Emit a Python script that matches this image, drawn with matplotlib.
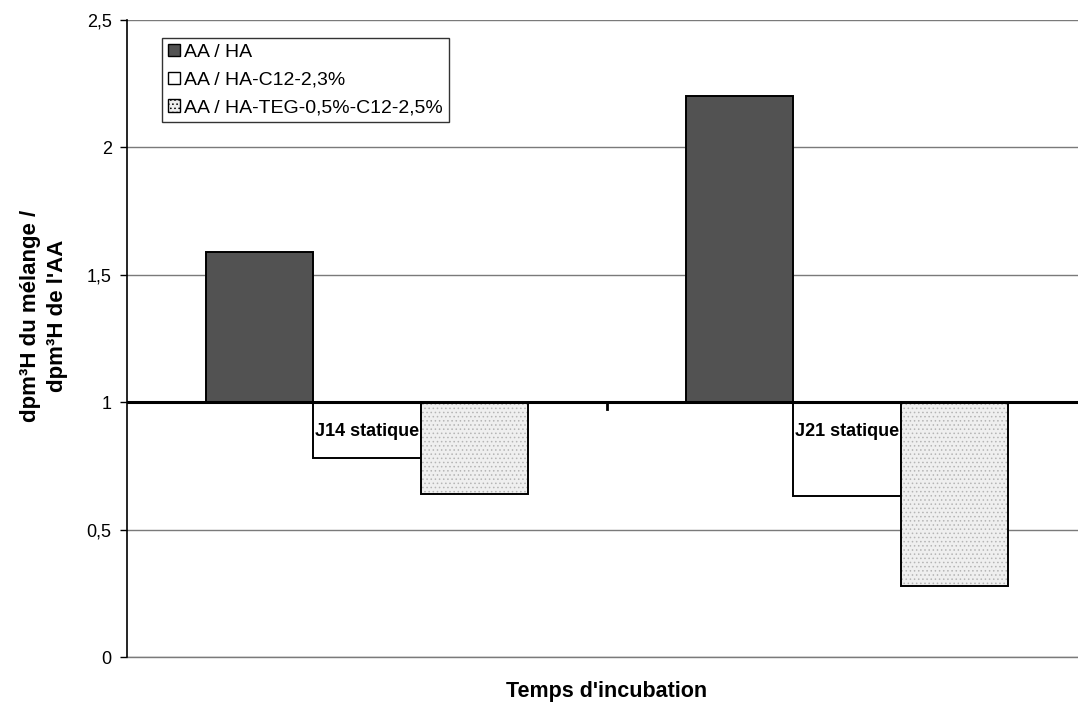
import matplotlib
matplotlib.use("Agg")
import matplotlib.pyplot as plt
import numpy as np

plt.rcParams['font.family'] = ['Liberation Sans', 'DejaVu Sans']
plt.rcParams['hatch.linewidth'] = 0.6

categories = ["J14 statique", "J21 statique"]
series_names = ["AA / HA", "AA / HA-C12-2,3%", "AA / HA-TEG-0,5%-C12-2,5%"]
values = [
    [1.59, 2.20],   # AA / HA
    [0.78, 0.63],   # AA / HA-C12-2,3%
    [0.64, 0.28],   # AA / HA-TEG-0,5%-C12-2,5%
]
yticks = [0, 0.5, 1, 1.5, 2, 2.5]
ytick_labels = ["0", "0,5", "1", "1,5", "2", "2,5"]
baseline = 1.0

W, H = 1078, 703
fig = plt.figure(figsize=(W / 100, H / 100), dpi=100)
ax = fig.add_axes([127 / W, (H - 657) / H, 960 / W, 637 / H])

x = np.arange(len(categories))
width = 0.223
offsets = [-width, 0, width]
facecolors = ["#525252", "white", "#efefef"]
hatches = [None, None, "...."]
hatchcolors = [None, None, "#b5b5b5"]
zorders = [2, 2, 4]

for i, (name, vals) in enumerate(zip(series_names, values)):
    vals = np.array(vals)
    bars = ax.bar(x + offsets[i], vals - baseline, bottom=baseline, width=width,
                  color=facecolors[i], edgecolor="black", linewidth=1.4,
                  label=name, zorder=zorders[i])
    if hatches[i]:
        for b in bars:
            b.set_hatch(hatches[i])
            b.set_edgecolor(hatchcolors[i])
            b.set_linewidth(0)
        ax.bar(x + offsets[i], vals - baseline, bottom=baseline, width=width,
               fill=False, edgecolor="black", linewidth=1.4, zorder=zorders[i] + 0.1)

# horizontal axis crossing at 1
ax.axhline(baseline, color="black", linewidth=2.2, zorder=5)
ax.axhline(0, color="#7a7a7a", linewidth=1.0, zorder=1, clip_on=False)
# category separator tick
for sep in [0.5]:
    ax.plot([sep, sep], [baseline, baseline - 0.025], color="black", lw=2, zorder=5,
            clip_on=False)

# category labels
for xi, cat in zip(x, categories):
    ax.text(xi, baseline - 0.08, cat, ha="center", va="top", fontsize=13,
            fontweight="bold", zorder=3)

ax.set_xlim(-0.5, 1.5)
ax.set_ylim(0, 2.5)
ax.set_yticks(yticks)
ax.set_yticklabels(ytick_labels, fontsize=13)
ax.set_xticks([])
ax.grid(axis="y", color="#7a7a7a", linewidth=1.0, zorder=0)
ax.set_axisbelow(True)
for s in ["right", "top", "bottom"]:
    ax.spines[s].set_visible(False)
ax.spines["left"].set_linewidth(1.2)
ax.tick_params(axis="y", length=5, width=1, pad=6)

fig.text(44 / W, 1 - 316 / H, "dpm³H du mélange /\ndpm³H de l'AA", rotation=90,
         ha="center", va="center", multialignment="center", fontsize=16,
         fontweight="bold", linespacing=1.4)
fig.text(607 / W, 1 - 692 / H, "Temps d'incubation", ha="center", va="center",
         fontsize=15.5, fontweight="bold")

leg = ax.legend(loc="upper left", bbox_to_anchor=(35 / 960, 1 - 18 / 637),
                fontsize=14, frameon=True, fancybox=False, edgecolor="black",
                handlelength=0.6, handleheight=0.6, handletextpad=0.25,
                borderpad=0.3, labelspacing=0.55, borderaxespad=0)
leg.get_frame().set_linewidth(1.0)
leg.set_zorder(10)
for h in leg.legend_handles:
    h.set_edgecolor("black")
    h.set_linewidth(1.0)

fig.savefig("out.png", dpi=100)
